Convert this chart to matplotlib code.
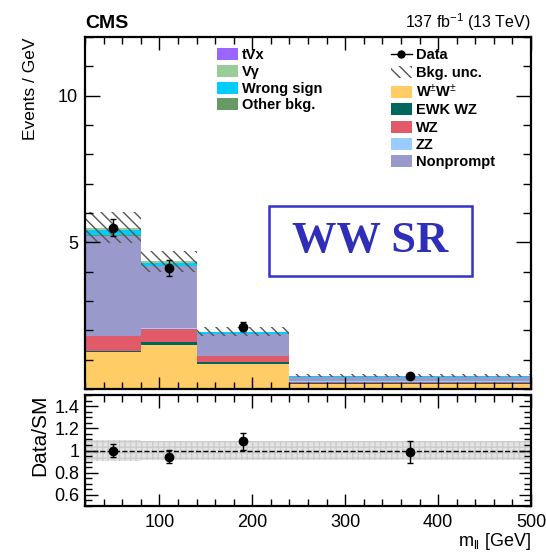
import numpy as np
import matplotlib
matplotlib.use('Agg')
import matplotlib.pyplot as plt
from matplotlib.patches import Patch, Rectangle
from matplotlib.lines import Line2D
from matplotlib.ticker import MultipleLocator, FixedLocator, FixedFormatter

plt.rcParams['font.family'] = ['Liberation Sans', 'DejaVu Sans']
plt.rcParams['mathtext.fontset'] = 'custom'
plt.rcParams['mathtext.rm'] = 'Liberation Sans'
plt.rcParams['mathtext.it'] = 'Liberation Sans:italic'
plt.rcParams['hatch.linewidth'] = 1.0

# binning in m_ll
edges = np.array([20, 80, 140, 240, 500])
centers = 0.5 * (edges[1:] + edges[:-1])

# stacked backgrounds (events / GeV), bottom to top
ww = [1.25, 1.50, 0.86, 0.18]
ewk_wz = [0.05, 0.09, 0.07, 0.02]
wz = [0.50, 0.47, 0.20, 0.05]
zz = [0.02, 0.02, 0.01, 0.01]
nonprompt = [3.40, 2.10, 0.73, 0.15]
other = [0.04, 0.03, 0.02, 0.01]
wrong_sign = [0.16, 0.10, 0.04, 0.02]
vgamma = [0.06, 0.04, 0.02, 0.01]
tvx = [0.02, 0.01, 0.01, 0.01]

bkg_unc = [0.52, 0.36, 0.16, 0.04]

data = [5.50, 4.12, 2.12, 0.455]
data_err = [0.30, 0.27, 0.15, 0.045]

stack = [
    (ww, '#FFCC66', r'W$^{\pm}$W$^{\pm}$'),
    (ewk_wz, '#00665E', 'EWK WZ'),
    (wz, '#E05A6A', 'WZ'),
    (zz, '#99CCFF', 'ZZ'),
    (nonprompt, '#9999CC', 'Nonprompt'),
    (other, '#669966', 'Other bkg.'),
    (wrong_sign, '#00CCFF', 'Wrong sign'),
    (vgamma, '#99CC99', 'V\u03b3'),
    (tvx, '#9966FF', 'tVx'),
]
colors = {lab: c for _, c, lab in stack}

fig = plt.figure(figsize=(5.46, 5.52), dpi=100)
ax = fig.add_axes([85 / 546, 1 - 389 / 552, 446 / 546, 352 / 552])
rax = fig.add_axes([85 / 546, 1 - 506 / 552, 446 / 546, 111 / 552])

bottom = np.zeros(4)
for vals, c, lab in stack:
    top = bottom + np.array(vals)
    ax.stairs(top, edges, baseline=bottom, fill=True, color=c, lw=0)
    bottom = top
total = bottom

unc = np.array(bkg_unc)
ax.stairs(total + unc, edges, baseline=total - unc, fill=True, facecolor='none',
          edgecolor='#555555', hatch='\\\\\\', lw=0)

ax.errorbar(centers, data, yerr=data_err, fmt='o', color='black', ms=6,
            elinewidth=1, capsize=2, capthick=1)

ax.set_xlim(20, 500)
ax.set_ylim(0, 12)

# ratio panel
rel = unc / total
rax.stairs(1 + rel, edges, baseline=1 - rel, fill=True, facecolor='#e4e4e4',
           edgecolor='#cccccc', hatch='+++', lw=0)
rax.axhline(1, color='black', ls='--', lw=1)
rax.errorbar(centers, np.array(data) / total, yerr=np.array(data_err) / total,
             fmt='o', color='black', ms=6, elinewidth=1, capsize=2, capthick=1)
rax.set_xlim(20, 500)
rax.set_ylim(0.5, 1.5)

for a in (ax, rax):
    for s in a.spines.values():
        s.set_linewidth(1.6)
    a.xaxis.set_major_locator(MultipleLocator(100))
    a.xaxis.set_minor_locator(MultipleLocator(20))
    a.tick_params(which='both', direction='in', top=True, right=True, width=1)

ax.tick_params(which='major', axis='y', length=11, labelsize=13, pad=5)
ax.tick_params(which='minor', axis='y', length=6)
ax.tick_params(which='major', axis='x', length=9, labelbottom=False)
ax.tick_params(which='minor', axis='x', length=5)
ax.yaxis.set_major_locator(FixedLocator([5, 10]))
ax.yaxis.set_minor_locator(MultipleLocator(1))

rax.tick_params(which='major', axis='y', length=9, labelsize=13, pad=4)
rax.tick_params(which='minor', axis='y', length=5)
rax.tick_params(which='major', axis='x', length=9, labelsize=13, pad=6)
rax.tick_params(which='minor', axis='x', length=5)
rax.yaxis.set_major_locator(FixedLocator([0.6, 0.8, 1.0, 1.2, 1.4]))
rax.yaxis.set_major_formatter(FixedFormatter(['0.6', '0.8', '1', '1.2', '1.4']))
rax.yaxis.set_minor_locator(MultipleLocator(0.05))

ax.set_ylabel('Events / GeV', fontsize=12.5, loc='top', labelpad=14)
rax.set_ylabel('Data/SM', fontsize=15, loc='top', labelpad=4)
rax.set_xlabel(r'm$_{\mathrm{ll}}$ [GeV]', fontsize=13, loc='right', labelpad=0)

ax.text(0.0, 1.025, 'CMS', transform=ax.transAxes, fontsize=14, fontweight='bold',
        ha='left', va='baseline')
ax.text(1.0, 1.025, r'137 fb$^{\mathrm{-1}}$ (13 TeV)', transform=ax.transAxes,
        fontsize=11.5, ha='right', va='baseline')

# legends
def box(lab):
    return Patch(facecolor=colors[lab], edgecolor='none')

h1 = [box('tVx'), box('V\u03b3'), box('Wrong sign'), box('Other bkg.')]
l1 = ['tVx', 'V\u03b3', 'Wrong sign', 'Other bkg.']
h2 = [Line2D([], [], color='black', marker='o', ms=5, lw=1),
      Patch(facecolor='none', edgecolor='#555555', hatch='\\\\\\', lw=0),
      box(r'W$^{\pm}$W$^{\pm}$'), box('EWK WZ'), box('WZ'), box('ZZ'), box('Nonprompt')]
l2 = ['Data', 'Bkg. unc.', r'W$^{\pm}$W$^{\pm}$', 'EWK WZ', 'WZ', 'ZZ', 'Nonprompt']

prop = {'weight': 'bold', 'size': 10.5}
leg1 = ax.legend(h1, l1, loc='upper left', bbox_to_anchor=(0.295, 0.968), frameon=False,
                 prop=prop, borderpad=0, borderaxespad=0, handlelength=1.45,
                 handleheight=0.9, handletextpad=0.3, labelspacing=0.18)
ax.add_artist(leg1)
ax.legend(h2, l2, loc='upper left', bbox_to_anchor=(0.685, 0.968), frameon=False,
          prop=prop, borderpad=0, borderaxespad=0, handlelength=1.45,
          handleheight=0.9, handletextpad=0.3, labelspacing=0.22)

# region label
ax.add_patch(Rectangle((0.4126, 0.321), 0.4551, 0.199, transform=ax.transAxes,
                       facecolor='white', edgecolor='#3333CC', lw=1.8))
ax.text(0.639, 0.42, 'WW SR', transform=ax.transAxes, fontsize=32, fontweight='bold',
        family=['Liberation Serif', 'DejaVu Serif'], color='#2E2EB8',
        ha='center', va='center')

fig.savefig('out.png', dpi=100)
